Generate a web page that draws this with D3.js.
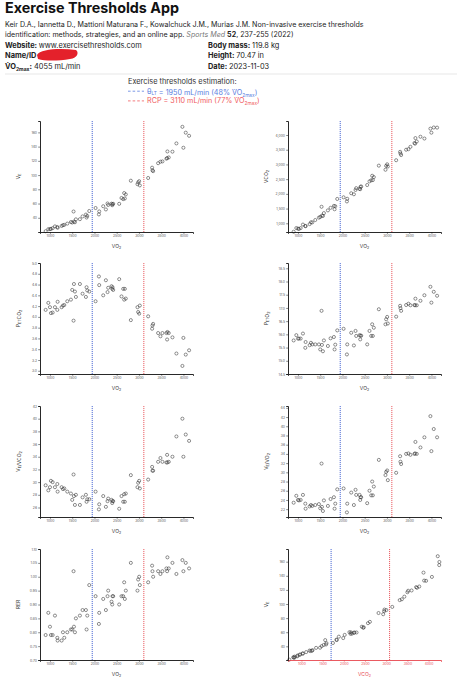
<!DOCTYPE html>
<html>
<head>
<meta charset="utf-8">
<script src="https://cdn.jsdelivr.net/npm/d3@7"></script>
<style>
  body { margin: 0; background: #fff; }
  svg { display: block; font-family: Inter, "Open Sans", sans-serif; }
</style>
</head>
<body>
<svg id="chart" width="457" height="680"></svg>
<script>
// breath-by-breath averages
const vo2 = [903, 963, 1000, 1022, 1060, 1112, 1165, 1172, 1262, 1292, 1322, 1389, 1471, 1500, 1530, 1539,
  1561, 1583, 1673, 1733, 1808, 1823, 1838, 1883, 2025, 2100, 2107, 2197, 2257, 2294, 2309, 2384, 2399,
  2406, 2421, 2556, 2608, 2646, 2668, 2683, 2705, 2818, 2967, 2982, 3005, 3020, 3207, 3296, 3304, 3319,
  3431, 3483, 3528, 3618, 3633, 3640, 3670, 3753, 3842, 3977, 3999, 4052, 4127];
const ve = [21.1, 24.0, 24.0, 24.4, 25.4, 27.9, 27.0, 25.9, 28.5, 29.6, 30.0, 31.8, 34.0, 33.3, 48.8, 34.6,
  33.7, 37.8, 38.0, 41.9, 44.5, 40.3, 42.6, 49.5, 53.7, 44.7, 48.9, 56.2, 51.7, 60.1, 58.0, 59.8, 57.6,
  59.2, 59.6, 59.6, 67.8, 66.2, 74.7, 67.1, 72.8, 92.1, 87.2, 89.8, 91.4, 85.5, 95.9, 110.4, 106.7, 105.5,
  116.7, 118.8, 119.2, 123.0, 123.9, 133.2, 124.8, 132.9, 144.5, 167.8, 138.4, 159.6, 155.2];
const vco2 = [713, 838, 820, 807, 837, 956, 909, 902, 972, 1034, 1031, 1111, 1192, 1215, 1561, 1262,
  1249, 1346, 1439, 1525, 1591, 1477, 1581, 1827, 1883, 1743, 1833, 2021, 1986, 2133, 2194, 2169, 2159,
  2238, 2252, 2300, 2425, 2461, 2615, 2468, 2570, 2959, 2819, 2952, 3005, 2929, 3143, 3428, 3370, 3319,
  3500, 3518, 3599, 3727, 3706, 3895, 3780, 3941, 3880, 4216, 4079, 4255, 4251];
const petco2 = [4.13, 4.26, 4.18, 4.07, 4.08, 4.18, 4.13, 4.28, 4.18, 4.21, 4.22, 4.29, 4.32, 4.50, 3.93, 4.61,
  4.47, 4.37, 4.61, 4.43, 4.37, 4.55, 4.49, 4.47, 4.29, 4.75, 4.59, 4.40, 4.68, 4.46, 4.54, 4.57, 4.52,
  4.55, 4.50, 4.70, 4.38, 4.52, 4.32, 4.52, 4.34, 3.94, 4.18, 4.09, 4.06, 4.21, 4.01, 3.78, 3.84, 3.87,
  3.70, 3.64, 3.70, 3.70, 3.58, 3.72, 3.70, 3.62, 3.32, 3.09, 3.61, 3.30, 3.38];
const peto2 = [15.77, 15.97, 15.84, 15.84, 15.84, 16.03, 15.49, 15.71, 15.59, 15.68, 15.62, 15.62, 15.62, 15.43, 16.89, 15.60,
  15.36, 15.77, 15.56, 15.85, 15.90, 15.43, 15.61, 16.15, 16.21, 15.24, 15.62, 16.06, 15.58, 16.13, 15.94, 15.97, 15.81,
  15.95, 15.95, 15.62, 16.13, 15.94, 16.38, 15.94, 16.25, 16.95, 16.38, 16.57, 16.66, 16.41, 16.67, 17.08, 16.99, 16.89,
  17.11, 17.16, 17.10, 17.11, 17.10, 17.35, 17.10, 17.27, 17.48, 17.80, 17.20, 17.61, 17.46];
const veVco2 = [29.5, 28.7, 29.2, 30.2, 30.0, 29.2, 29.7, 28.5, 29.2, 28.9, 29.0, 28.5, 28.2, 27.2, 31.2, 27.8,
  26.4, 28.0, 26.4, 27.6, 28.0, 26.9, 27.3, 27.3, 28.5, 25.7, 26.5, 27.8, 26.1, 27.0, 27.4, 27.2, 26.7,
  27.0, 27.0, 25.8, 27.8, 26.9, 28.1, 26.9, 28.2, 31.1, 29.2, 29.9, 30.2, 29.0, 30.4, 32.4, 31.8, 31.8,
  33.2, 33.8, 33.2, 33.1, 34.3, 33.1, 33.2, 34.0, 37.2, 40.0, 34.0, 37.5, 36.5];
const veVo2 = [23.4, 24.9, 24.0, 23.9, 24.0, 25.1, 23.2, 22.1, 22.6, 22.9, 22.7, 22.9, 23.1, 22.2, 31.9, 22.5,
  21.6, 23.9, 22.7, 24.2, 24.6, 22.1, 23.2, 26.3, 26.5, 21.3, 23.2, 25.6, 22.9, 26.2, 25.1, 25.1, 24.0,
  24.6, 24.6, 23.3, 26.0, 25.0, 28.0, 25.0, 26.9, 32.7, 29.4, 30.1, 30.4, 28.3, 29.9, 33.5, 32.3, 31.8,
  34.0, 34.1, 33.8, 34.0, 34.1, 36.6, 34.0, 35.4, 37.6, 42.2, 34.6, 39.4, 37.6];
const rer = [0.79, 0.87, 0.82, 0.79, 0.79, 0.86, 0.78, 0.77, 0.77, 0.80, 0.78, 0.80, 0.81, 0.81, 1.02, 0.82,
  0.80, 0.85, 0.86, 0.88, 0.88, 0.81, 0.86, 0.97, 0.93, 0.83, 0.87, 0.92, 0.88, 0.93, 0.95, 0.91, 0.90,
  0.93, 0.93, 0.90, 0.93, 0.93, 0.98, 0.92, 0.95, 1.05, 0.95, 0.99, 1.00, 0.97, 0.98, 1.04, 1.02, 1.00,
  1.02, 1.01, 1.02, 1.03, 1.02, 1.07, 1.03, 1.05, 1.01, 1.06, 1.02, 1.05, 1.03];

// thresholds: [θLT, RCP]
const thresholdVo2 = [1950, 3110];
const thresholdVco2 = [1700, 3080];
const thresholdPct = [48, 77];
const thresholdColors = ["#3657cf", "#e8474f"];
const legendColors = ["#5a7ee0", "#f05a5e"];

const vo2Ticks = [1000, 1500, 2000, 2500, 3000, 3500, 4000];

const svg = d3.select("#chart");

// ---------- header ----------
svg.append("text")
    .attr("x", 5).attr("y", 13)
    .attr("font-size", 14.3).attr("font-weight", 700).attr("fill", "#111")
    .text("Exercise Thresholds App");

const cite = svg.append("g").attr("font-size", 7.1).attr("fill", "#222");
cite.append("text").attr("x", 5).attr("y", 27)
    .text("Keir D.A., Iannetta D., Mattioni Maturana F., Kowalchuck J.M., Murias J.M. Non-invasive exercise thresholds");
const cite2 = cite.append("text").attr("x", 5).attr("y", 36.5);
cite2.append("tspan").text("identification: methods, strategies, and an online app. ");
cite2.append("tspan").attr("font-style", "italic").attr("fill", "#777").text("Sports Med ");
cite2.append("tspan").attr("font-weight", 700).text("52");
cite2.append("tspan").text(", 237-255 (2022)");

function infoLine(x, y, label, value) {
    const t = svg.append("text").attr("x", x).attr("y", y).attr("font-size", 7.4).attr("fill", "#222");
    t.append("tspan").attr("font-weight", 700).text(label);
    t.append("tspan").text(value);
    return t;
}
infoLine(5, 47.5, "Website: ", "www.exercisethresholds.com");
infoLine(5, 58, "Name/ID", "");
infoLine(208, 47.5, "Body mass: ", "119.8 kg");
infoLine(208, 58, "Height: ", "70.47 in");
infoLine(208, 69, "Date: ", "2023-11-03");

const vmax = svg.append("text").attr("x", 5).attr("y", 69).attr("font-size", 7.4).attr("fill", "#222");
vmax.append("tspan").attr("font-weight", 700).text("V\u0307O");
vmax.append("tspan").attr("font-weight", 700).attr("font-size", 5).attr("dy", 1.5).text("2max");
vmax.append("tspan").attr("dy", -1.5).attr("font-weight", 700).text(":");
vmax.append("tspan").text(" 4055 mL/min");

// redacted name
svg.append("path")
    .attr("d", "M37,55 C40,49 60,48 76,50 C79,52 78,58 70,59 C58,61 45,61 38,59 Z")
    .attr("fill", "#e4212b");

svg.append("line").attr("x1", 5).attr("x2", 457).attr("y1", 74).attr("y2", 74)
    .attr("stroke", "#dcdcdc").attr("stroke-width", 0.7);

svg.append("text").attr("x", 128).attr("y", 83.5).attr("font-size", 7.4).attr("fill", "#333")
    .text("Exercise thresholds estimation:");

["θ", "RCP"].forEach((name, i) => {
    const yy = 93.5 + i * 9.7;
    svg.append("line").attr("x1", 128).attr("x2", 144).attr("y1", yy - 2.3).attr("y2", yy - 2.3)
        .attr("stroke", legendColors[i]).attr("stroke-width", 0.8).attr("stroke-dasharray", "2.6,2");
    const t = svg.append("text").attr("x", 147).attr("y", yy).attr("font-size", 7.2)
        .attr("fill", legendColors[i]);
    t.append("tspan").text(name);
    if (i === 0) {
        t.append("tspan").attr("font-size", 4.8).attr("dy", 1.5).text("LT");
        t.append("tspan").attr("dy", -1.5).text("");
    }
    t.append("tspan").text(` = ${thresholdVo2[i]} mL/min (${thresholdPct[i]}% V\u0307O`);
    t.append("tspan").attr("font-size", 4.8).attr("dy", 1.5).text("2max");
    t.append("tspan").attr("dy", -1.5).text(")");
});

// ---------- panels ----------
const plotW = 153, plotH = 111;
const colLeft = [40, 288];
const rowTop = [121, 263, 406, 549];
const vo2Domain = [776, 4215];

function addLabel(text, parts) {
    parts.forEach(([s, sub]) => {
        text.append("tspan").text(s);
        if (sub) {
            text.append("tspan").attr("font-size", 3.6).attr("dy", 1.2).text(sub);
            text.append("tspan").attr("dy", -1.2).text("");
        }
    });
}

const panels = [
    { col: 0, row: 0, xs: vo2, ys: ve, xDomain: vo2Domain, yDomain: [20, 176],
      yTicks: d3.range(40, 161, 20), yFormat: d3.format("d"), yLabel: [["V", "E"]] },
    { col: 1, row: 0, xs: vo2, ys: vco2, xDomain: vo2Domain, yDomain: [704, 4476],
      yTicks: d3.range(1000, 4001, 500), yFormat: d3.format(","), yLabel: [["VCO", "2"]] },
    { col: 0, row: 1, xs: vo2, ys: petco2, xDomain: vo2Domain, yDomain: [2.94, 5.0],
      yTicks: d3.range(3.0, 5.01, 0.2), yFormat: d3.format(".1f"), yLabel: [["P", "ET"], ["CO", "2"]] },
    { col: 1, row: 1, xs: vo2, ys: peto2, xDomain: vo2Domain, yDomain: [14.5, 18.7],
      yTicks: d3.range(14.5, 18.51, 0.5), yFormat: d3.format(".1f"), yLabel: [["P", "ET"], ["O", "2"]] },
    { col: 0, row: 2, xs: vo2, ys: veVco2, xDomain: vo2Domain, yDomain: [24.5, 42],
      yTicks: d3.range(26, 42.1, 2), yFormat: d3.format("d"), yLabel: [["V", "E"], ["/VCO", "2"]] },
    { col: 1, row: 2, xs: vo2, ys: veVo2, xDomain: vo2Domain, yDomain: [20.3, 44.4],
      yTicks: d3.range(22, 44.1, 2), yFormat: d3.format("d"), yLabel: [["V", "E"], ["/VO", "2"]] },
    { col: 0, row: 3, xs: vo2, ys: rer, xDomain: vo2Domain, yDomain: [0.70, 1.10],
      yTicks: d3.range(0.70, 1.101, 0.05), yFormat: d3.format(".2f"), yLabel: [["RER", null]] },
    { col: 1, row: 3, xs: vco2, ys: ve, xDomain: [683, 4293], yDomain: [20.6, 178],
      yTicks: d3.range(40, 161, 20), yFormat: d3.format("d"), yLabel: [["V", "E"]],
      thresholds: thresholdVco2, xLabel: [["VCO", "2"]], xColor: "#e8474f" }
];

panels.forEach(p => {
    const left = colLeft[p.col], top = rowTop[p.row];
    const g = svg.append("g");
    const x = d3.scaleLinear().domain(p.xDomain).range([left, left + plotW]);
    const y = d3.scaleLinear().domain(p.yDomain).range([top + plotH, top]);
    const axisColor = p.xColor || "#111";

    // threshold lines
    (p.thresholds || thresholdVo2).forEach((t, i) => {
        g.append("line")
            .attr("x1", x(t)).attr("x2", x(t))
            .attr("y1", top).attr("y2", top + plotH)
            .attr("stroke", thresholdColors[i])
            .attr("stroke-width", 0.9)
            .attr("stroke-dasharray", "1.1,0.9");
    });

    // points
    g.selectAll("circle")
        .data(p.xs.map((v, i) => [v, p.ys[i]]))
        .join("circle")
        .attr("cx", d => x(d[0]))
        .attr("cy", d => y(d[1]))
        .attr("r", 1.55)
        .attr("fill", "none")
        .attr("stroke", "#333")
        .attr("stroke-width", 0.55);

    // x axis
    const xa = g.append("g")
        .attr("transform", `translate(0,${top + plotH})`)
        .call(d3.axisBottom(x).tickValues(vo2Ticks).tickFormat(d3.format("d"))
            .tickSize(1.8).tickPadding(1.2));
    xa.attr("font-size", 3.4).attr("font-family", null);
    xa.select(".domain").attr("stroke", axisColor).attr("stroke-width", 0.9);
    xa.selectAll(".tick line").attr("stroke", axisColor).attr("stroke-width", 0.5);
    xa.selectAll(".tick text").attr("fill", p.xColor || "#555");

    // y axis
    const ya = g.append("g")
        .attr("transform", `translate(${left},0)`)
        .call(d3.axisLeft(y).tickValues(p.yTicks).tickFormat(p.yFormat)
            .tickSize(1.8).tickPadding(1.2));
    ya.attr("font-size", 3.4).attr("font-family", null);
    ya.select(".domain").attr("stroke", "#111").attr("stroke-width", 0.9);
    ya.selectAll(".tick line").attr("stroke", "#111").attr("stroke-width", 0.5);
    ya.selectAll(".tick text").attr("fill", "#555");

    // labels
    const xl = g.append("text")
        .attr("x", left + plotW / 2).attr("y", top + plotH + 16)
        .attr("text-anchor", "middle").attr("font-size", 5)
        .attr("fill", p.xColor || "#333");
    addLabel(xl, p.xLabel || [["VO", "2"]]);

    const yl = g.append("text")
        .attr("transform", `translate(${left - 20},${top + plotH / 2}) rotate(-90)`)
        .attr("text-anchor", "middle").attr("font-size", 5).attr("fill", "#333");
    addLabel(yl, p.yLabel);
});
</script>
</body>
</html>
